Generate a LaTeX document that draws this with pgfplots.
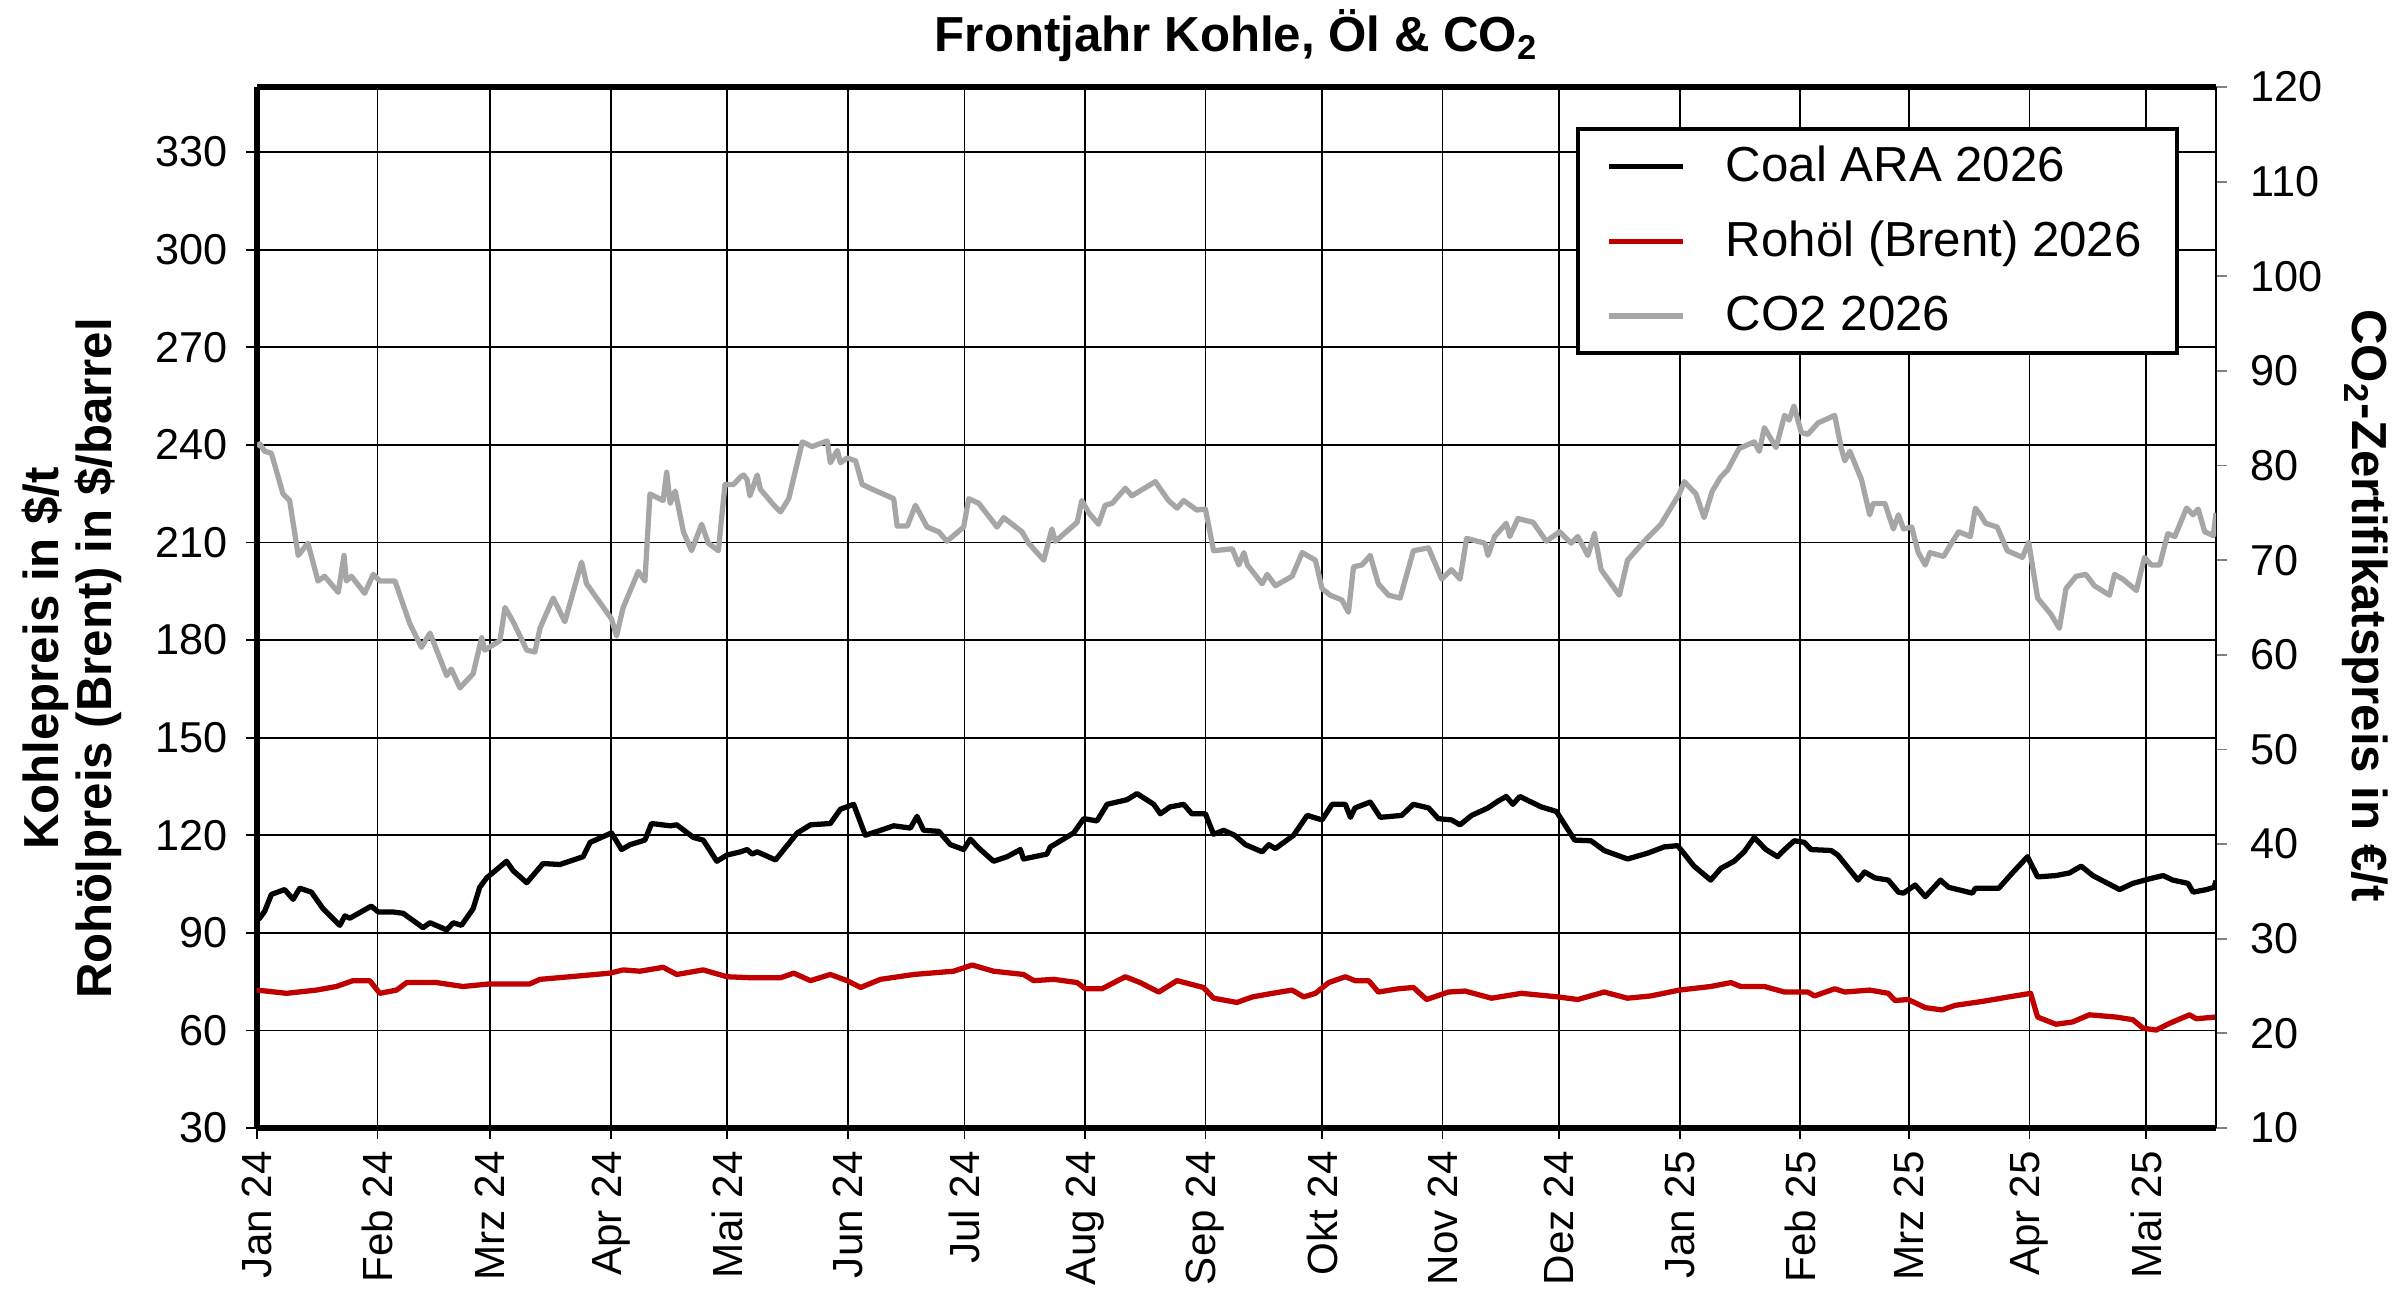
\documentclass[border=0pt]{standalone}
\usepackage{fontspec}
\setmainfont{Liberation Sans}
\usepackage{pgfplots}
\pgfplotsset{compat=1.18}
\definecolor{oilred}{RGB}{192,0,0}
\definecolor{cogray}{RGB}{166,166,166}
\begin{document}
\begin{tikzpicture}
\path[use as bounding box] (-25.7mm,-17.1mm) rectangle (214.3mm,112.8mm);
\pgfplotsset{
  base/.style={
    width=195.9mm, height=104.1mm, scale only axis,
    at={(0,0)}, anchor=south west,
    xmin=0, xmax=504,
    tick align=outside,
    major tick length=1.1mm,
    tick style={black, line width=0.5pt},
    /pgf/number format/assume math mode=true,
    ticklabel style={font=\fontsize{12.3}{14}\selectfont},
  }
}
\begin{axis}[base,
  ymin=30, ymax=350,
  ytick={30,60,...,330},
  yticklabel style={xshift=-0.6mm},
  xtick={0,31,60,91,121,152,182,213,244,274,305,335,366,397,425,456,486},
  xticklabels={Jan 24,Feb 24,Mrz 24,Apr 24,Mai 24,Jun 24,Jul 24,Aug 24,Sep 24,Okt 24,Nov 24,Dez 24,Jan 25,Feb 25,Mrz 25,Apr 25,Mai 25},
  xticklabel style={rotate=90, anchor=east, font=\fontsize{12}{14}\selectfont},
  axis x line*=box, axis y line*=left,
  xtick pos=bottom, ytick pos=left,
  x axis line style={line width=1.5pt}, y axis line style={line width=1.5pt},
  grid=major, major grid style={black, line width=0.5pt},
  every axis title shift=0pt,
  title={Frontjahr Kohle, Öl \& CO\textsubscript{2}},
  title style={at={(0.5,1)}, anchor=base, yshift=3.5mm, font=\bfseries\fontsize{14}{16}\selectfont},
  ylabel={Kohlepreis in \$/t\\Rohölpreis (Brent) in \$/barrel},
  every axis y label/.style={at={(axis description cs:-0.0945,0.451)}, rotate=90, anchor=center, align=center, font=\bfseries\fontsize{14}{15.2}\selectfont},
]
\addplot[black, line width=1.5pt, line join=round] table {
0 94.0
0.7 94.5
2.0 96.7
3.7 101.8
7.1 103.3
9.3 100.3
11.0 103.7
14.0 102.5
17.0 97.4
21.3 92.3
22.6 95.2
23.9 94.5
29.4 98.2
31.2 96.4
35.0 96.4
37.6 96.0
42.7 91.6
44.5 93.1
48.8 90.9
50.5 93.1
52.6 92.3
55.6 97.4
57.3 104.0
59.1 106.9
64.2 112.0
65.9 109.1
69.4 105.4
73.6 111.3
77.9 111.0
83.9 113.4
85.7 117.8
91.2 120.7
93.8 115.6
96.0 117.1
99.8 118.5
101.5 123.6
106.3 122.9
108.0 123.2
112.3 119.3
114.8 118.5
118.3 112.0
120.9 113.9
124.4 114.9
126.1 115.6
127.4 114.2
128.7 114.9
133.4 112.4
139.0 120.7
142.4 123.2
147.5 123.6
150.1 128.0
153.5 129.5
156.5 120.0
160.4 121.5
163.8 122.9
168.1 122.2
169.8 125.8
171.5 121.5
175.4 121.2
178.4 117.1
181.8 115.6
183.5 118.8
186.1 115.6
189.5 112.0
193.0 113.4
196.4 115.6
197.2 112.7
203.2 114.2
204.1 116.4
210.1 120.7
212.7 125.1
216.1 124.4
218.7 129.5
223.8 130.9
226.4 132.8
230.7 129.5
232.4 126.6
234.9 128.7
238.4 129.5
240.5 126.6
244.0 126.6
246.1 120.3
248.7 121.5
251.5 120.0
254.3 117.1
258.6 114.9
260.3 117.1
262.0 115.9
266.7 120.0
270.2 126.1
274.0 124.7
276.6 129.5
280.0 129.5
281.3 125.5
282.5 128.4
286.4 130.2
289.0 125.5
294.5 126.1
297.5 129.5
301.4 128.4
303.9 125.1
307.3 124.7
309.5 123.2
312.5 126.1
316.7 128.4
319.3 130.5
321.4 131.9
323.1 129.5
324.9 131.9
330.4 128.7
334.3 127.3
339.0 118.5
343.2 118.3
346.6 115.3
352.6 112.7
357.8 114.5
362.0 116.4
365.5 116.8
369.7 110.5
374.0 106.2
376.6 109.8
380.0 112.0
382.6 114.9
385.2 119.3
388.2 115.6
391.2 113.4
393.0 115.6
395.5 118.3
398.1 117.8
399.8 115.6
405.0 115.3
406.7 113.9
411.9 106.2
413.6 108.7
416.2 106.9
419.7 106.2
422.3 102.5
423.6 102.2
426.6 104.7
429.2 101.1
433.1 106.2
435.2 104.0
441.3 102.2
442.1 103.7
448.1 103.7
451.6 108.4
455.5 113.4
458.1 107.2
462.8 107.6
466.3 108.4
469.3 110.5
472.3 107.6
479.2 103.3
482.6 105.2
486.9 106.6
490.4 107.6
492.9 106.2
496.8 105.2
498.1 102.5
501.6 103.3
503.5 104.0
504.0 106.0
};
\addplot[oilred, line width=1.5pt, line join=round] table {
0 72.4
7.6 71.4
15.3 72.4
20.4 73.5
24.7 75.3
29.0 75.3
31.6 71.4
35.9 72.4
38.5 74.7
46.2 74.7
53.0 73.5
59.9 74.3
70.2 74.3
72.8 75.7
80.5 76.5
90.8 77.6
94.2 78.6
98.5 78.2
104.5 79.4
108.0 77.2
114.8 78.6
120.9 76.5
126.9 76.2
134.7 76.2
138.1 77.6
142.4 75.3
147.5 77.2
151.8 75.3
155.3 73.2
160.4 75.7
169.0 77.2
179.2 78.2
184.0 80.1
189.5 78.2
197.2 77.2
199.8 75.3
205.0 75.7
211.0 74.7
213.1 72.8
217.4 72.8
223.4 76.5
227.2 74.7
232.0 71.8
236.7 75.3
243.5 73.2
246.1 69.9
252.1 68.6
256.1 70.3
261.2 71.4
266.3 72.4
269.3 70.3
272.3 71.4
275.7 74.7
280.0 76.5
282.5 75.3
286.0 75.3
288.5 71.8
293.7 72.8
297.5 73.2
300.9 69.5
306.5 71.8
310.8 72.1
317.6 69.9
325.3 71.4
334.7 70.3
339.8 69.5
346.6 71.8
352.6 69.9
358.6 70.6
365.9 72.4
374.0 73.5
379.2 74.7
381.7 73.5
387.8 73.5
393.0 71.8
399.0 71.8
400.7 70.6
405.9 72.8
408.5 71.8
414.9 72.4
419.7 71.4
421.4 69.2
424.8 69.5
429.2 67.0
433.5 66.3
436.9 67.7
443.8 68.9
450.7 70.3
456.3 71.4
458.1 64.1
462.8 61.9
467.1 62.6
471.4 64.8
478.3 64.1
482.6 63.3
485.2 60.7
488.6 60.1
492.1 62.2
497.2 64.8
498.9 63.6
504.0 64.1
};
\end{axis}
\begin{axis}[base,
  ymin=10, ymax=120, ytick={10,20,...,120},
  axis x line=none, axis y line*=right,
  y axis line style={line width=0.8pt},
  ytick style={gray, line width=0.5pt},
  yticklabel style={xshift=1.1mm},
  ylabel={CO\textsubscript{2}-Zertifikatspreis in €/t},
  every axis y label/.style={at={(axis description cs:1.0761,0.502)}, rotate=-90, anchor=center, font=\bfseries\fontsize{14}{16}\selectfont},
  legend style={at={(0.981,0.9616)}, anchor=north east, draw=black, line width=1.2pt, fill=white,
    font=\fontsize{14}{16}\selectfont, inner xsep=2.8mm, inner ysep=1mm, row sep=2.0mm, column sep=3.3mm},
  legend cell align=left,
  legend image code/.code={\draw[#1] (0mm,0mm) -- (7.4mm,0mm);},
]
\addlegendimage{black, line width=1.6pt}
\addlegendentry{Coal ARA 2026}
\addlegendimage{oilred, line width=1.6pt}
\addlegendentry{Rohöl (Brent) 2026}
\addplot[cogray, line width=1.5pt, line join=round] table {
0 82.0
0.7 82.3
2.0 81.5
3.7 81.3
6.7 77.0
8.4 76.3
10.6 70.5
13.1 71.8
15.7 67.8
17.4 68.3
20.9 66.6
22.4 70.5
23.0 67.8
24.3 68.3
27.7 66.5
29.9 68.5
31.6 67.8
35.5 67.8
39.3 63.3
42.3 60.8
44.5 62.3
48.8 57.8
50.0 58.5
52.2 56.5
55.6 58.0
57.8 61.8
58.6 60.5
62.5 61.5
63.8 65.0
65.9 63.5
69.4 60.5
71.5 60.3
72.8 62.8
76.2 66.0
79.2 63.5
83.5 69.8
84.8 67.5
91.2 63.8
92.5 62.0
94.2 65.0
98.1 68.8
99.8 67.8
101.1 77.0
104.5 76.3
105.4 79.3
106.3 76.0
107.6 77.3
109.7 73.0
111.8 71.0
114.4 73.8
116.1 71.8
118.7 71.0
120.4 78.0
122.6 78.0
124.4 78.8
125.2 79.0
126.1 78.5
126.8 76.8
128.7 79.0
129.5 77.5
133.0 75.8
134.7 75.1
136.8 76.5
140.3 82.5
142.8 82.0
146.7 82.6
147.5 80.3
149.3 81.6
150.1 80.3
151.8 80.8
154.0 80.5
155.7 78.0
158.3 77.5
163.8 76.5
164.7 73.6
167.3 73.6
169.4 75.8
172.4 73.5
175.4 73.0
177.5 72.0
181.8 73.5
183.1 76.5
185.7 76.0
190.4 73.5
192.1 74.5
196.8 73.0
198.5 71.8
202.4 70.0
204.5 73.3
205.4 72.0
211.0 74.0
212.2 76.3
214.0 75.0
216.5 73.8
218.2 75.8
220.0 76.0
223.4 77.6
225.1 76.8
231.1 78.3
234.5 76.3
236.7 75.5
238.4 76.3
241.8 75.3
244.0 75.4
246.1 71.0
250.9 71.2
252.6 69.5
253.9 70.8
254.8 69.5
258.6 67.5
259.9 68.5
262.0 67.3
266.3 68.3
268.9 70.8
272.3 70.0
274.0 67.0
276.1 66.3
279.1 65.8
280.8 64.5
282.1 69.3
284.3 69.5
286.4 70.5
288.5 67.5
291.1 66.3
294.1 66.0
297.5 71.0
301.4 71.3
304.8 68.0
307.3 69.0
309.5 68.0
311.2 72.3
315.9 71.8
316.7 70.5
318.4 72.5
321.4 73.9
322.3 72.5
324.4 74.4
328.3 74.0
331.7 72.0
335.1 73.0
338.1 71.8
339.8 72.5
342.4 70.5
344.1 72.8
345.8 69.0
350.5 66.3
352.6 70.0
356.9 72.0
361.2 73.8
365.9 77.0
367.2 78.3
370.2 77.0
372.3 74.5
374.4 77.3
376.6 78.8
378.3 79.5
381.3 81.8
385.2 82.5
386.5 81.5
387.8 84.0
390.8 81.9
393.0 85.3
394.2 84.8
395.4 86.3
397.3 83.5
399.0 83.3
401.6 84.5
405.9 85.3
407.6 81.8
408.5 80.5
409.8 81.5
412.8 78.5
414.9 74.8
415.8 76.0
418.8 76.0
421.0 73.3
422.3 74.8
423.6 73.3
425.7 73.5
427.4 70.8
429.2 69.5
430.4 70.8
433.9 70.4
436.1 71.9
437.8 73.0
440.8 72.5
442.1 75.5
443.4 74.8
444.7 73.9
447.7 73.5
450.3 71.0
454.2 70.3
455.8 71.9
458.1 66.0
461.5 64.3
463.7 62.8
465.4 67.0
468.0 68.3
470.5 68.5
472.7 67.3
476.6 66.3
477.9 68.5
480.0 68.0
483.5 66.8
485.6 70.3
487.3 69.5
489.5 69.5
491.6 72.8
493.4 72.5
496.4 75.5
498.1 74.8
499.4 75.4
501.1 73.0
503.3 72.6
504.0 75.0
};
\addlegendentry{CO2 2026}
\end{axis}
\end{tikzpicture}
\end{document}
